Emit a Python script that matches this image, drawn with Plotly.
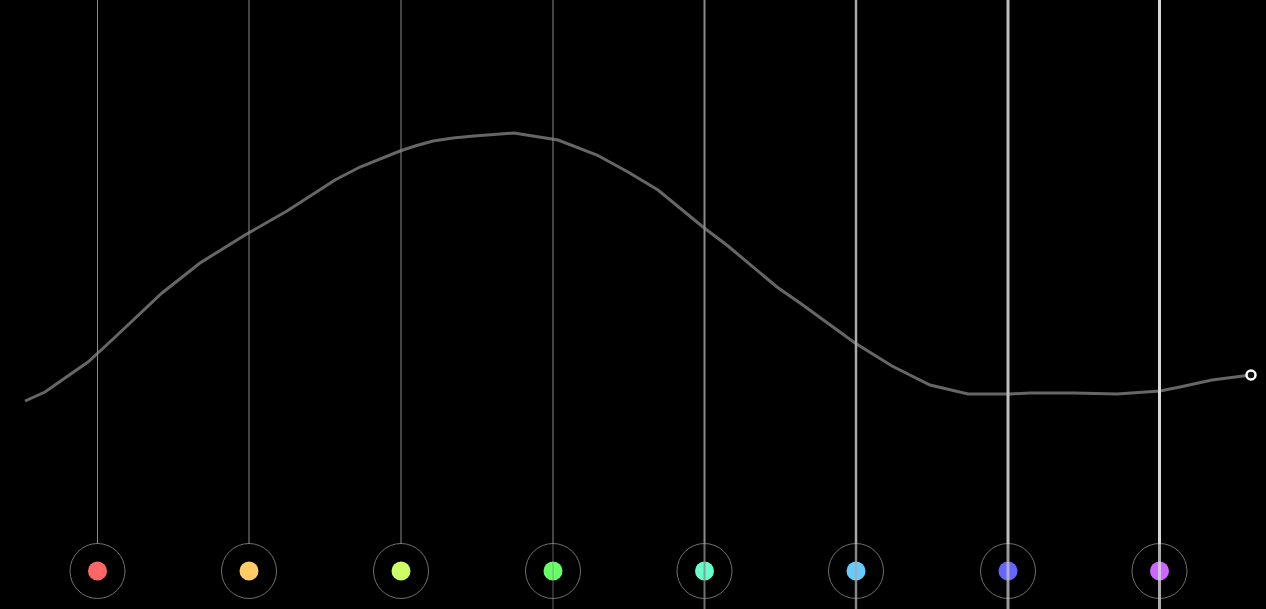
import plotly.graph_objects as go

curve_x = [25, 45, 65, 88, 112, 137, 162, 200, 245, 287, 313, 335, 360, 385, 400, 415, 433, 453, 474, 514,
           558, 597, 628, 658, 680, 703, 728, 752, 777, 800, 826, 855, 892, 930, 968, 1010, 1030, 1074, 1117,
           1160, 1180, 1212, 1251]
curve_py = [401, 392, 378, 362, 340, 316, 293, 263, 235, 211, 194, 180, 167, 157, 151, 146, 141, 138, 136, 133,
            140, 155, 172, 190, 208, 227, 246, 266, 287, 303, 322, 343, 366, 385, 394, 394, 393, 393, 394,
            391, 387, 380, 375]
curve_y = [609 - v for v in curve_py]

# Steps
step_x = [97.5, 249, 401, 553, 704.5, 856, 1008, 1159.5]
step_colors = ["#ff6666", "#ffcc66", "#ccff66", "#66ff66", "#66ffcc", "#66ccff", "#6666ff", "#cc66ff"]
line_widths = [1, 1, 1, 1, 2, 2.5, 3, 3]
line_colors = ["#8a8a8a", "#8a8a8a", "#8a8a8a", "#8a8a8a", "#8c8c8c", "#a8a8a8", "#c0c0c0", "#d8d8d8"]
line_bottom = [65, 65, 65, 0, 0, 0, 0, 0]
step_y = 38

fig = go.Figure()

# curve
fig.add_trace(go.Scatter(x=curve_x, y=curve_y, mode="lines",
                         line=dict(color="#666666", width=3), hoverinfo="skip"))

# outer rings and dots
fig.add_trace(go.Scatter(x=step_x, y=[step_y] * 8, mode="markers",
                         marker=dict(size=55, color="rgba(0,0,0,0)",
                                     line=dict(color="#707070", width=1)), hoverinfo="skip"))
fig.add_trace(go.Scatter(x=step_x, y=[step_y] * 8, mode="markers",
                         marker=dict(size=19, color=step_colors, line=dict(width=0)), hoverinfo="skip"))

# vertical lines
for i, xv in enumerate(step_x):
    fig.add_trace(go.Scatter(x=[xv, xv], y=[609, 65], mode="lines",
                             line=dict(color=line_colors[i], width=line_widths[i]), hoverinfo="skip"))
    if line_bottom[i] == 0:
        op = 0.35 if i == 3 else 0.8
        fig.add_trace(go.Scatter(x=[xv, xv], y=[65, 0], mode="lines", opacity=op,
                                 line=dict(color=line_colors[i], width=max(line_widths[i], 2)),
                                 hoverinfo="skip"))

# end marker
fig.add_trace(go.Scatter(x=[curve_x[-1]], y=[curve_y[-1]], mode="markers", cliponaxis=False,
                         marker=dict(size=9, color="#111111", line=dict(color="#ffffff", width=2.5)),
                         hoverinfo="skip"))

fig.update_layout(
    width=1266, height=609,
    margin=dict(l=0, r=0, t=0, b=0),
    paper_bgcolor="#000000", plot_bgcolor="#000000",
    showlegend=False,
    xaxis=dict(range=[0, 1266], visible=False, fixedrange=True),
    yaxis=dict(range=[0, 609], visible=False, fixedrange=True),
)

fig.write_html("out.html", config={"displayModeBar": False},
               post_script="document.body.style.margin='0';document.body.style.background='#000';")
